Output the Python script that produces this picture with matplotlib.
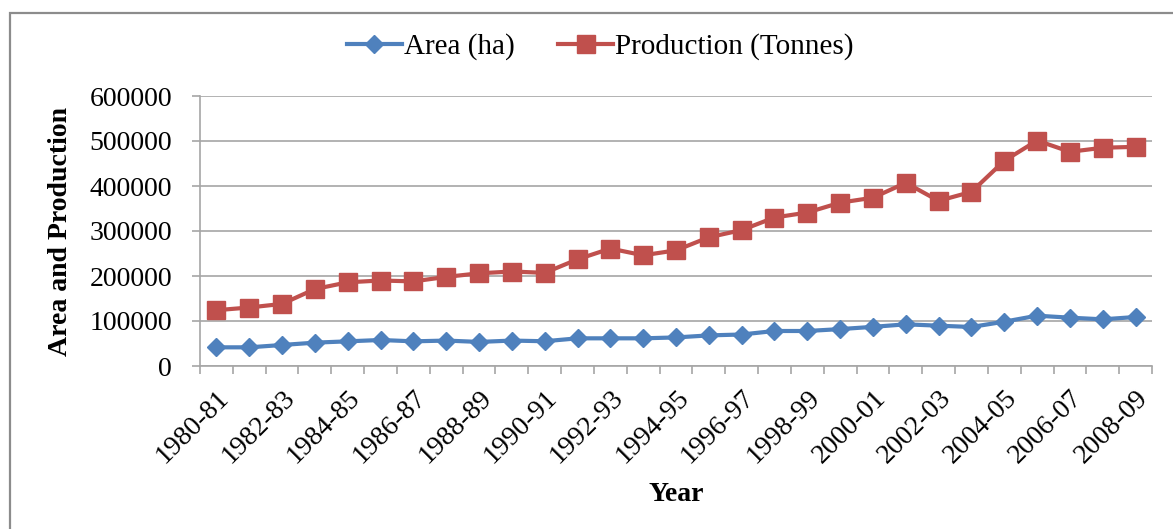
import matplotlib.pyplot as plt
from matplotlib.patches import Rectangle

# Years (29 seasons)
years = ['1980-81', '1981-82', '1982-83', '1983-84', '1984-85', '1985-86',
         '1986-87', '1987-88', '1988-89', '1989-90', '1990-91', '1991-92',
         '1992-93', '1993-94', '1994-95', '1995-96', '1996-97', '1997-98',
         '1998-99', '1999-00', '2000-01', '2001-02', '2002-03', '2003-04',
         '2004-05', '2005-06', '2006-07', '2007-08', '2008-09']

area = [41500, 41500, 46700, 51900, 54800, 57800, 54800, 56500, 53500, 56500,
        55000, 61500, 61500, 61500, 63500, 68000, 70000, 77800, 77800, 82000,
        87000, 92600, 89600, 86700, 98500, 111800, 107400, 103700, 108900]

production = [124000, 130000, 138000, 171000, 186000, 190000, 188000, 198000,
              206000, 210000, 207000, 237000, 261000, 246000, 257000, 286000,
              302000, 330000, 341000, 363000, 374000, 407000, 367000, 387000,
              456000, 501000, 476000, 485000, 487000]

yticks = [0, 100000, 200000, 300000, 400000, 500000, 600000]

plt.rcParams['font.family'] = ['Liberation Serif', 'DejaVu Serif']

W, H = 1173, 529
fig = plt.figure(figsize=(W / 100, H / 100), dpi=100)
ax = fig.add_axes([200 / W, 1 - 366 / H, 952 / W, 270 / H])

# chart frame
fig.patches.append(Rectangle((10 / W, -0.1), 1.1, 1 - 13 / H + 0.1,
                             transform=fig.transFigure, fill=False,
                             edgecolor='#8c8c8c', linewidth=1.6))

x = list(range(len(years)))
ax.plot(x, area, color='#4F81BD', lw=3, marker='D', ms=9.5,
        label='Area (ha)', zorder=3)
ax.plot(x, production, color='#C0504D', lw=3, marker='s', ms=13,
        label='Production (Tonnes)', zorder=3)

ax.set_xlim(-0.5, len(years) - 0.5)
ax.set_ylim(0, 600000)
ax.set_yticks(yticks)
ax.set_yticklabels([str(v) for v in yticks], fontsize=20)
ax.yaxis.grid(True, color='#a6a6a6', lw=1.2)
ax.set_axisbelow(True)

# labels on every other season, tick marks at category boundaries
ax.set_xticks(x[::2])
ax.set_xticklabels(years[::2], rotation=45, ha='right', va='top',
                   rotation_mode='anchor', fontsize=20)
ax.set_xticks([i - 0.5 for i in range(len(years) + 1)], minor=True)
ax.tick_params(axis='x', which='major', length=0, pad=14)
ax.tick_params(axis='x', which='minor', length=6, color='#a6a6a6', width=1.2)
ax.tick_params(axis='y', length=6, color='#a6a6a6', width=1.2, pad=14)

for side in ['top', 'right']:
    ax.spines[side].set_visible(False)
for side in ['left', 'bottom']:
    ax.spines[side].set_color('#a6a6a6')
    ax.spines[side].set_linewidth(1.2)

ax.set_xlabel('Year', fontsize=20, fontweight='bold')
ax.xaxis.set_label_coords(0.5, -(482 - 366) / 270)
ax.set_ylabel('Area and Production', fontsize=20, fontweight='bold')
ax.yaxis.set_label_coords((73 - 200) / 952, 0.5)

fig.legend(loc='center', bbox_to_anchor=(600 / W, 1 - 47 / H), ncol=2,
           frameon=False, fontsize=21, handlelength=1.9, columnspacing=1.5,
           handletextpad=0.05)

plt.savefig('out.png', dpi=100)
